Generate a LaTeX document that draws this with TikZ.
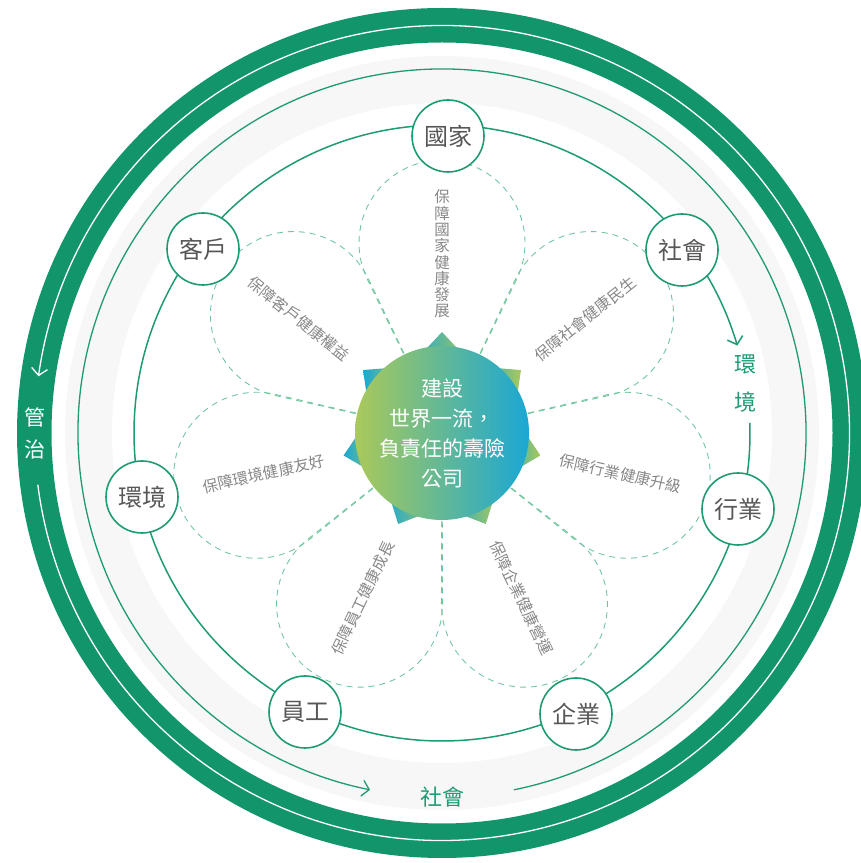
\documentclass[tikz,border=0pt]{standalone}
\usepackage{fontspec}
\setmainfont{Noto Sans CJK TC}
\usepackage{tikz}
\usetikzlibrary{arrows.meta,calc}
\definecolor{ringgreen}{HTML}{12956B}
\definecolor{linegreen}{HTML}{1E9A74}
\definecolor{petalgreen}{HTML}{72C69F}
\definecolor{bandgray}{HTML}{F7F7F7}
\definecolor{textgray}{HTML}{575757}
\definecolor{petalgray}{HTML}{878787}
\definecolor{coreyellow}{HTML}{AAC95A}
\definecolor{coremid}{HTML}{45B5A2}
\definecolor{coreblue}{HTML}{1AA7D4}

\begin{document}
\begin{tikzpicture}[x=1pt,y=1pt,
  member/.style={circle,draw=linegreen,line width=1.6pt,fill=white,minimum size=72pt,
    inner sep=0pt,text=textgray,font=\fontsize{24}{24}\selectfont},
  petal/.style={draw=petalgreen,line width=0.9pt,dash pattern=on 6pt off 5pt},
  aim/.style={inner sep=0pt,text=petalgray,font=\fontsize{15.5}{16.3}\selectfont},
  ringtxt/.style={inner sep=0pt,align=center},
  barb/.style={-{Straight Barb[length=7pt,width=16pt]}}]
  \useasboundingbox (0,0) rectangle (861,863);
  \clip (0,0) rectangle (861,863);
  \coordinate (o) at (442,430);

  % governance ring
  \fill[ringgreen,even odd rule] (o) circle[radius=425] (o) circle[radius=390.5];
  \draw[white,line width=1.3pt,barb] ($(o)+(-172.7:407.5)$)
    arc[start angle=-172.7,end angle=172,radius=407.5];
  \node[ringtxt,text=white,font=\fontsize{21}{32}\selectfont] (gov) at ($(o)+(180:407)$) {管\\治};

  % society ring
  \draw[bandgray,line width=47pt] (o) circle[radius=353.5];
  \draw[linegreen,line width=1.3pt,barb] ($(o)+(-78.6:364)$)
    arc[start angle=-78.6,end angle=258.6,radius=364];
  \node[ringtxt,text=linegreen,font=\fontsize{22}{22}\selectfont] (soc) at ($(o)+(270:364)$) {社會};

  % petals
  \foreach \k in {0,...,6}{
    \begin{scope}[shift={(o)},rotate=90-\k*360/7]
      \draw[petal] (0,0) -- (153.74,-74.66) arc[start angle=-115.9,end angle=115.9,radius=83] -- cycle;
    \end{scope}
  }
  \node[aim,align=center] (aim0) at ($(o)+(90:179)$) {保\\障\\國\\家\\健\\康\\發\\展};
  \foreach \k/\txt/\rot in {1/保障社會健康民生/38.57,2/保障行業健康升級/-12.86,
      3/保障企業健康營運/-64.29,4/保障員工健康成長/64.29,
      5/保障環境健康友好/12.86,6/保障客戶健康權益/-38.57}
    \node[aim,rotate=\rot] (aim\k) at ($(o)+(90-\k*360/7:183)$) {\txt};

  % stakeholder ring
  \draw[linegreen,line width=1.5pt,barb] ($(o)+(1.9:308)$)
    arc[start angle=361.9,end angle=16.5,radius=308];
  \node[ringtxt,text=linegreen,font=\fontsize{22}{38}\selectfont] (env) at ($(o)+(9.3:308)$) {環\\境};

  \node[member] (nation) at (448,727) {國家};
  \node[member] (society) at (682,613) {社會};
  \node[member] (industry) at (738,354) {行業};
  \node[member] (enterprise) at (576,149) {企業};
  \node[member] (staff) at (305,151) {員工};
  \node[member] (environment) at (142,366) {環境};
  \node[member] (client) at (203,614) {客戶};

  % core
  \foreach \k in {0,...,6}
    \shade[left color=coreblue,right color=coreyellow]
      ($(o)+(90-\k*360/7:101)$) -- ($(o)+(90-\k*360/7+25.71:74)$)
      -- ($(o)+(90-\k*360/7-25.71:74)$) -- cycle;
  \shade[left color=coreyellow,middle color=coremid,right color=coreblue] (o) circle[radius=87];
  \node[align=center,text=white,font=\fontsize{21}{30}\selectfont] (core) at (o)
    {建設\\世界一流，\\負責任的壽險\\公司};
\end{tikzpicture}
\end{document}
